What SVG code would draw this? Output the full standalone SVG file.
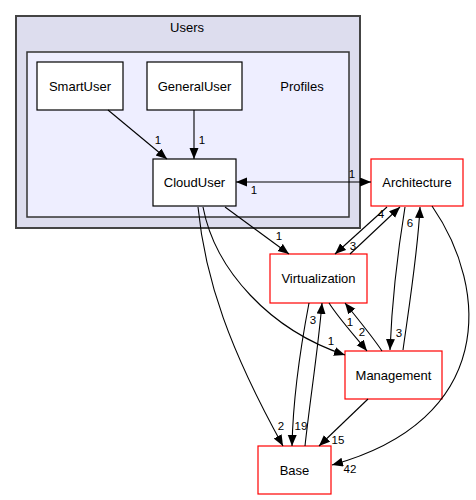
<svg xmlns="http://www.w3.org/2000/svg" width="476" height="500" viewBox="0 0 476 500">
  <style>
    text { font-family: "Liberation Sans", Arial, sans-serif; fill: #000; }
    .node-label { font-size: 13px; text-anchor: middle; }
    .edge-label { font-size: 11.5px; text-anchor: middle; }
    .dir { fill: #fff; stroke: #000; stroke-width: 1.2; }
    .ext { fill: #fff; stroke: #ff0000; stroke-width: 1.2; }
    .edge { fill: none; stroke: #000; stroke-width: 1.1; marker-end: url(#head); }
  </style>
  <defs>
    <marker id="head" markerUnits="userSpaceOnUse" markerWidth="12" markerHeight="10" refX="11" refY="4.5" orient="auto-start-reverse">
      <path d="M0,0 L11,4.5 L0,9 z" fill="#000"/>
    </marker>
  </defs>

  <!-- Users cluster -->
  <g id="cluster-users">
    <rect x="16" y="16" width="344" height="212" fill="#ddddee" stroke="#444444" stroke-width="2"/>
    <text class="node-label" x="187" y="32">Users</text>
  </g>

  <!-- Profiles cluster -->
  <g id="cluster-profiles">
    <rect x="27" y="52" width="322" height="165" fill="#eeeeff" stroke="#333333" stroke-width="1.5"/>
    <text class="node-label" x="302" y="91">Profiles</text>
  </g>

  <g id="node-smartuser">
    <rect class="dir" x="37" y="62" width="86" height="48"/>
    <text class="node-label" x="80" y="91">SmartUser</text>
  </g>
  <g id="node-generaluser">
    <rect class="dir" x="147" y="62" width="95" height="48"/>
    <text class="node-label" x="194.5" y="91">GeneralUser</text>
  </g>
  <g id="node-clouduser">
    <rect class="dir" x="153" y="159" width="83" height="47"/>
    <text class="node-label" x="194.5" y="187">CloudUser</text>
  </g>
  <g id="node-architecture">
    <rect class="ext" x="371" y="159" width="92" height="47"/>
    <text class="node-label" x="417" y="187">Architecture</text>
  </g>
  <g id="node-virtualization">
    <rect class="ext" x="270" y="254" width="97" height="49"/>
    <text class="node-label" x="318.5" y="283">Virtualization</text>
  </g>
  <g id="node-management">
    <rect class="ext" x="345" y="351" width="97" height="48"/>
    <text class="node-label" x="393.5" y="380">Management</text>
  </g>
  <g id="node-base">
    <rect class="ext" x="258" y="446" width="73" height="48"/>
    <text class="node-label" x="294.5" y="475">Base</text>
  </g>

  <g id="connectors">
    <path class="edge" d="M108,110 L167,159"/>
    <path class="edge" d="M194,110 L194,159"/>
    <path class="edge" d="M236,182 L371,182" style="marker-start:url(#head)"/>
    <path class="edge" d="M225,207 L289,254"/>
    <path class="edge" d="M198,207 C205,280 230,350 283,446"/>
    <path class="edge" d="M203,207 C215,270 270,330 345,355"/>
    <path class="edge" d="M387,207 L335,254"/>
    <path class="edge" d="M350,254 L400,207"/>
    <path class="edge" d="M405,207 C398,250 392,300 390,350"/>
    <path class="edge" d="M403,350 C410,300 418,250 420,207"/>
    <path class="edge" d="M432,206 C490,290 495,420 332,465"/>
    <path class="edge" d="M309,303 C300,350 293,400 292,446"/>
    <path class="edge" d="M305,446 C310,400 318,350 322,303"/>
    <path class="edge" d="M329,303 C340,320 355,336 367,351"/>
    <path class="edge" d="M382,351 C372,336 357,318 345,303"/>
    <path class="edge" d="M368,399 L319,446"/>

    <text class="edge-label" x="158" y="144">1</text>
    <text class="edge-label" x="202" y="144">1</text>
    <text class="edge-label" x="352" y="178">1</text>
    <text class="edge-label" x="254" y="194">1</text>
    <text class="edge-label" x="279" y="240">1</text>
    <text class="edge-label" x="381" y="218">4</text>
    <text class="edge-label" x="353" y="250">3</text>
    <text class="edge-label" x="410" y="227">6</text>
    <text class="edge-label" x="399" y="337">3</text>
    <text class="edge-label" x="313" y="324">3</text>
    <text class="edge-label" x="350" y="326">1</text>
    <text class="edge-label" x="362" y="336">2</text>
    <text class="edge-label" x="331" y="345">1</text>
    <text class="edge-label" x="281" y="430">2</text>
    <text class="edge-label" x="301" y="430">19</text>
    <text class="edge-label" x="338" y="444">15</text>
    <text class="edge-label" x="350" y="473">42</text>
  </g>
</svg>
